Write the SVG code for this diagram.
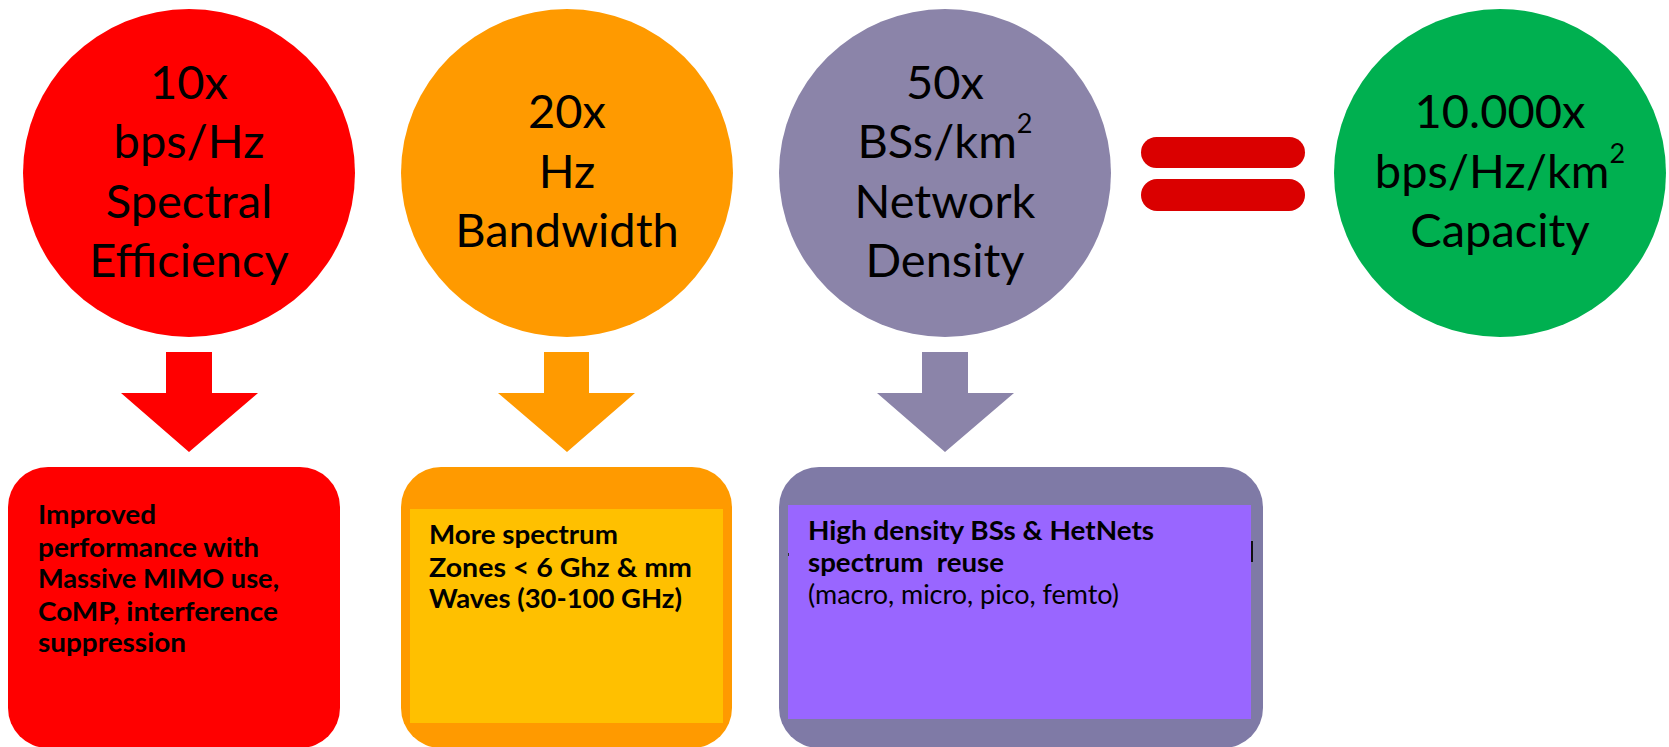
<svg xmlns="http://www.w3.org/2000/svg" width="1669" height="747" viewBox="0 0 1669 747">
  <style>
    .big { font-family: Lato, "Open Sans", sans-serif; font-size: 47px; fill: #000; text-anchor: middle; }
    .sup { font-size: 27px; }
    .body { font-family: Lato, "Open Sans", sans-serif; font-size: 27px; fill: #000; font-weight: bold; white-space: pre; }
    .reg { font-weight: normal; }
    .red { fill: #FF0000; }
    .orange { fill: #FF9A00; }
    .lilac { fill: #8B84A9; }
    .lilac-box { fill: #7F7AA6; }
  </style>

  <!-- Top row: factor circles -->
  <g id="spectral-efficiency">
    <ellipse class="red" cx="189" cy="173" rx="166" ry="164"/>
    <text class="big" x="189" y="99">10x</text>
    <text class="big" x="189" y="158">bps/Hz</text>
    <text class="big" x="189" y="218">Spectral</text>
    <text class="big" x="189" y="277">Efficiency</text>
  </g>

  <g id="bandwidth">
    <ellipse class="orange" cx="567" cy="173" rx="166" ry="164"/>
    <text class="big" x="567" y="128">20x</text>
    <text class="big" x="567" y="188">Hz</text>
    <text class="big" x="567" y="247">Bandwidth</text>
  </g>

  <g id="network-density">
    <ellipse class="lilac" cx="945" cy="173" rx="166" ry="164"/>
    <text class="big" x="945" y="99">50x</text>
    <text class="big" x="945" y="158">BSs/km<tspan class="sup" dy="-25">2</tspan></text>
    <text class="big" x="945" y="218">Network</text>
    <text class="big" x="945" y="277">Density</text>
  </g>

  <g id="equals">
    <rect x="1141" y="137" width="164" height="31" rx="15.5" fill="#DA0000"/>
    <rect x="1141" y="179" width="164" height="32" rx="16" fill="#DA0000"/>
  </g>

  <g id="capacity">
    <ellipse cx="1500" cy="173" rx="166" ry="164" fill="#00B050"/>
    <text class="big" x="1500" y="128">10.000x</text>
    <text class="big" x="1500" y="188">bps/Hz/km<tspan class="sup" dy="-25">2</tspan></text>
    <text class="big" x="1500" y="247">Capacity</text>
  </g>

  <!-- Down arrows from each circle to its box -->
  <g id="connectors">
    <polygon class="red" points="166,352 212,352 212,393 258,393 189,452 121,393 166,393"/>
    <polygon class="orange" points="544,352 589,352 589,393 635,393 567,452 498,393 544,393"/>
    <polygon class="lilac" points="922,352 968,352 968,393 1014,393 945,452 877,393 922,393"/>
  </g>

  <!-- Bottom row: technology boxes -->
  <g id="box-mimo">
    <rect class="red" x="8" y="467" width="332" height="281" rx="40"/>
    <text class="body" x="38" y="524" textLength="118" lengthAdjust="spacingAndGlyphs">Improved</text>
    <text class="body" x="38" y="557" textLength="221" lengthAdjust="spacingAndGlyphs">performance with</text>
    <text class="body" x="38" y="588" textLength="241" lengthAdjust="spacingAndGlyphs">Massive MIMO use,</text>
    <text class="body" x="38" y="621" textLength="240" lengthAdjust="spacingAndGlyphs">CoMP, interference</text>
    <text class="body" x="38" y="652" textLength="148" lengthAdjust="spacingAndGlyphs">suppression</text>
  </g>

  <g id="box-spectrum">
    <rect class="orange" x="401" y="467" width="331" height="281" rx="40"/>
    <rect x="410" y="509" width="313" height="214" fill="#FFC000"/>
    <text class="body" x="429" y="544" textLength="189" lengthAdjust="spacingAndGlyphs">More spectrum</text>
    <text class="body" x="429" y="577" textLength="263" lengthAdjust="spacingAndGlyphs">Zones &lt; 6 Ghz &amp; mm</text>
    <text class="body" x="429" y="608" textLength="253" lengthAdjust="spacingAndGlyphs">Waves (30-100 GHz)</text>
  </g>

  <g id="box-hetnets">
    <rect class="lilac-box" x="779" y="467" width="484" height="281" rx="40"/>
    <rect x="788" y="505" width="463" height="214" fill="#9966FF"/>
    <rect x="1251" y="541" width="2" height="21" fill="#111"/>
    <rect x="788" y="553" width="1" height="3" fill="#333"/>
    <text class="body" x="808" y="540" textLength="346" lengthAdjust="spacingAndGlyphs">High density BSs &amp; HetNets</text>
    <text class="body" x="808" y="572" textLength="196" lengthAdjust="spacingAndGlyphs">spectrum  reuse</text>
    <text class="body reg" x="808" y="604" textLength="311" lengthAdjust="spacingAndGlyphs">(macro, micro, pico, femto)</text>
  </g>
</svg>
